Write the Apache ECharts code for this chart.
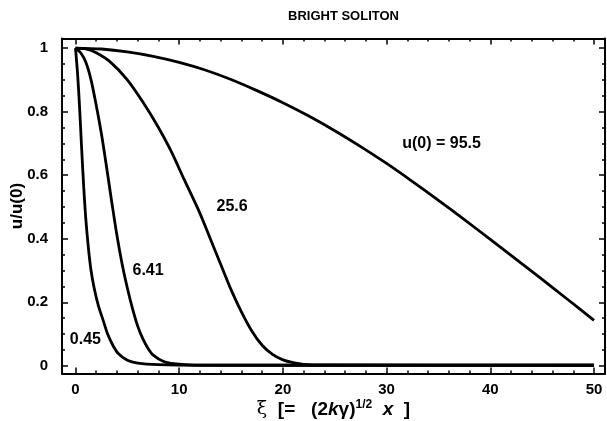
<!DOCTYPE html>
<html><head><meta charset="utf-8">
<script src="https://cdn.jsdelivr.net/npm/echarts@6/dist/echarts.min.js"></script>
<style>html,body{margin:0;padding:0;background:#fff}#c{width:607px;height:421px}</style>
</head><body><div id="c"></div>
<script>
// Curve data: [xi, u/u(0)]
const curve045 = [[0,1],[0.2,0.92],[0.4,0.81],[0.6,0.68],[0.8,0.56],[1.0,0.46],[1.25,0.37],[1.5,0.30],[1.8,0.245],[2.2,0.19],[2.7,0.14],[3.1,0.10],[3.6,0.065],[4.1,0.04],[5,0.018],[6,0.009],[8,0.004],[12,0.002],[50,0.002]];
const curve641 = [[0,1],[0.5,0.985],[1.0,0.955],[1.5,0.90],[2.0,0.82],[2.5,0.73],[3.0,0.625],[3.5,0.515],[4.0,0.41],[4.5,0.32],[5.0,0.245],[5.5,0.18],[6.0,0.125],[6.5,0.085],[7.0,0.055],[7.5,0.034],[8.5,0.014],[9.5,0.007],[11,0.003],[14,0.002],[50,0.002]];
const curve256 = [[0,1],[1,0.997],[2,0.985],[3.4,0.955],[5,0.9],[6.5,0.83],[8,0.75],[9.15,0.68],[10.5,0.585],[12,0.48],[13,0.40],[14,0.32],[15,0.24],[16,0.17],[17,0.11],[18,0.065],[19,0.036],[20,0.019],[21,0.01],[22,0.005],[24,0.003],[50,0.002]];
const curve955 = [[0,1],[2.5,0.997],[5,0.988],[7.5,0.974],[10,0.955],[12.5,0.931],[15,0.901],[17.5,0.866],[20,0.828],[22.5,0.786],[25,0.74],[27.5,0.69],[30,0.637],[32.5,0.58],[35,0.521],[37.5,0.46],[40,0.398],[42.5,0.335],[45,0.272],[47.5,0.208],[50,0.143]];
const curveLabels = ['0.45','6.41','25.6','u(0) = 95.5'];
const labelAnchors = [[0.96,0.082],[7.0,0.30],[15.1,0.50],[35.3,0.70]];
const xMajor = [0,10,20,30,40,50];
const xMinor = [2,4,6,8,12,14,16,18,22,24,26,28,32,34,36,38,42,44,46,48];
const yMajor = [0,0.2,0.4,0.6,0.8,1];
const yMinor = [0.05,0.1,0.15,0.25,0.3,0.35,0.45,0.5,0.55,0.65,0.7,0.75,0.85,0.9,0.95];
const yMajorLabels = ['0','0.2','0.4','0.6','0.8','1'];

const XMIN=-1.3, XMAX=51.06, YMIN=-0.024, YMAX=1.03;
const F='"Liberation Sans", Arial, sans-serif';
function xAx(pos, vals, len, labels, line, extra){
  return Object.assign({type:'value',position:pos,min:XMIN,max:XMAX,
    axisLine:{show:line,onZero:false,lineStyle:{color:'#000',width:2}},
    axisTick:{show:true,inside:true,length:len,customValues:vals,lineStyle:{color:'#000',width:1.5}},
    axisLabel:labels?{show:true,customValues:vals,color:'#000',fontFamily:F,fontWeight:'bold',fontSize:15,margin:9}:{show:false},
    splitLine:{show:false}},extra||{});
}
function yAx(pos, vals, len, labels, line, extra){
  return Object.assign({type:'value',position:pos,min:YMIN,max:YMAX,
    axisLine:{show:line,onZero:false,lineStyle:{color:'#000',width:2}},
    axisTick:{show:true,inside:true,length:len,customValues:vals,lineStyle:{color:'#000',width:1.5}},
    axisLabel:labels?{show:true,customValues:vals,color:'#000',fontFamily:F,fontWeight:'bold',fontSize:15,margin:14,
      formatter:function(v){const i=yMajor.findIndex(m=>Math.abs(m-v)<1e-6);return i>=0?yMajorLabels[i]:'';}}:{show:false},
    splitLine:{show:false}},extra||{});
}
const chart = echarts.init(document.getElementById('c'),null,{renderer:'canvas'});
const curves=[curve045,curve641,curve256,curve955];
const series = curves.map((d)=>({type:'line',data:d,showSymbol:false,smooth:0.3,
  lineStyle:{color:'#000',width:2.8},silent:true}));
series.push({type:'scatter',silent:true,symbol:'circle',symbolSize:0.1,itemStyle:{color:'#000',opacity:1},
  data:labelAnchors.map((p,i)=>({value:p,name:curveLabels[i]})),
  label:{show:true,position:'inside',formatter:p=>p.name,color:'#000',opacity:1,fontFamily:F,fontWeight:'bold',fontSize:16}});
chart.setOption({
  animation:false,
  title:{text:'BRIGHT SOLITON',left:283,top:5,textStyle:{fontFamily:F,fontWeight:'bold',fontSize:13,color:'#000'}},
  grid:{left:62,right:2,top:38.5,bottom:47.5,show:false,outerBoundsMode:'none',containLabel:false},
  xAxis:[
    xAx('bottom',xMajor,6,true,true,{name:'{g|ξ}  [=   (2{i|k}γ){s|1/2}  {i|x}  ]',nameLocation:'middle',nameGap:25,nameMoveOverlap:false,
      nameTextStyle:{color:'#000',fontFamily:F,fontWeight:'bold',fontSize:19,
        rich:{g:{fontFamily:'"DejaVu Serif", serif',fontSize:19,fontWeight:'normal',color:'#000'},
              i:{fontStyle:'italic',fontWeight:'bold',fontFamily:F,fontSize:19,color:'#000'},
              s:{fontSize:12,fontWeight:'bold',fontFamily:F,verticalAlign:'top',padding:[0,0,10,0],color:'#000'}}}}),
    xAx('bottom',xMinor,3,false,false),
    xAx('top',xMajor,6,false,true),
    xAx('top',xMinor,3,false,false)
  ],
  yAxis:[
    yAx('left',yMajor,6,true,true,{name:'u/u(0)',nameLocation:'middle',nameGap:36,nameRotate:90,nameMoveOverlap:false,
      nameTextStyle:{color:'#000',fontFamily:F,fontWeight:'bold',fontSize:17}}),
    yAx('left',yMinor,3,false,false),
    yAx('right',yMajor,6,false,true),
    yAx('right',yMinor,3,false,false)
  ],
  series: series
});
</script></body></html>
